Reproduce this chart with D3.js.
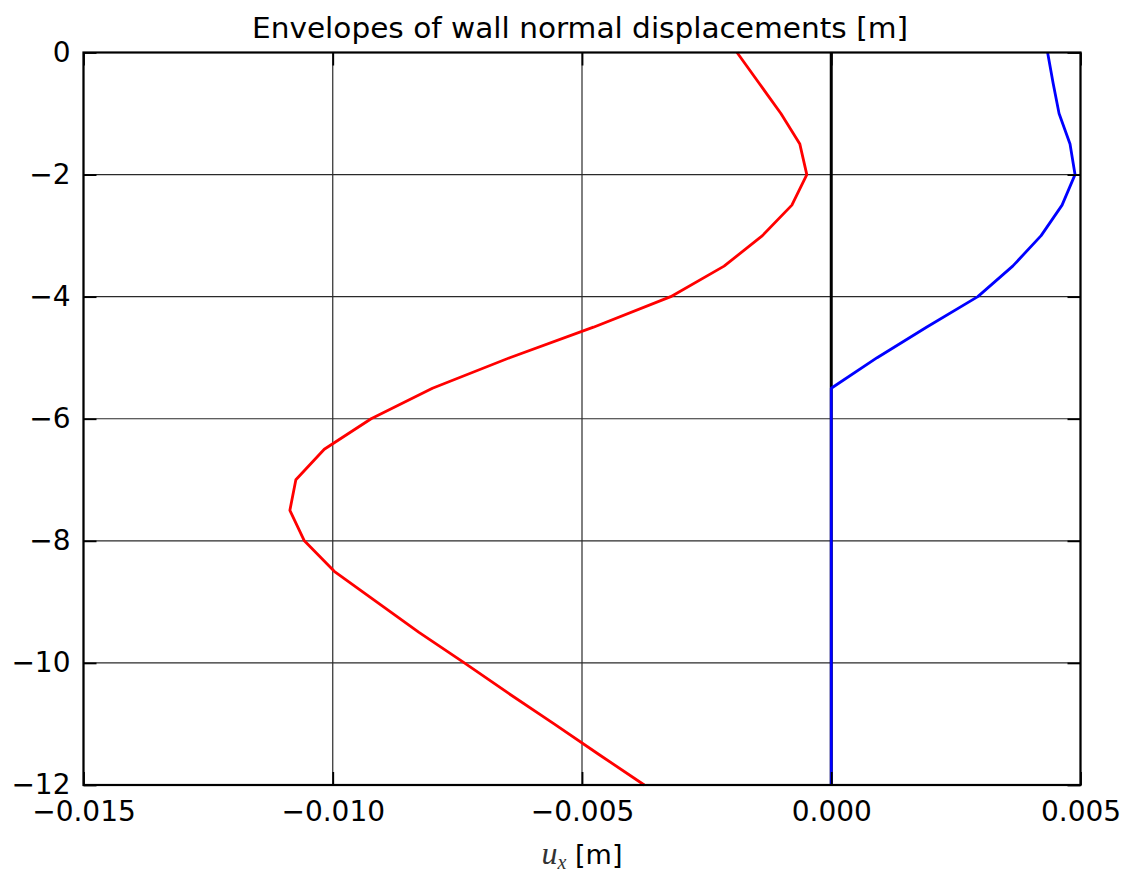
<!DOCTYPE html>
<html>
<head>
<meta charset="utf-8">
<script src="https://cdn.jsdelivr.net/npm/d3@7"></script>
<style>
  html, body { margin: 0; padding: 0; background: #fff; }
  svg { display: block; }
  text { font-family: "DejaVu Sans", sans-serif; fill: #000; }
</style>
</head>
<body>
<svg id="chart" width="1129" height="874"></svg>
<script>
// Depth below the wall top [m]
const depth = [0, -0.5, -1, -1.5, -2, -2.5, -3, -3.5, -4, -4.5, -5, -5.5, -6,
               -6.5, -7, -7.5, -8, -8.5, -9, -9.5, -10, -10.5, -11, -11.5, -12];

// Minimum envelope of normal displacement u_x [m]
const uxMin = [-0.00189, -0.00145, -0.00101, -0.00063, -0.00049, -0.00079, -0.00138,
               -0.00215, -0.00322, -0.00477, -0.00645, -0.00800, -0.00923, -0.01017,
               -0.01074, -0.01086, -0.01057, -0.00997, -0.00912, -0.00827, -0.00736,
               -0.00647, -0.00556, -0.00466, -0.00375];

// Maximum envelope of normal displacement u_x [m]
const uxMax = [0.00434, 0.00445, 0.00457, 0.00479, 0.00489, 0.00463, 0.00421,
               0.00364, 0.00294, 0.00191, 0.00092, 0.0, 0.0, 0.0, 0.0, 0.0, 0.0,
               0.0, 0.0, 0.0, 0.0, 0.0, 0.0, 0.0, 0.0];

// Wall axis (reference line)
const wallX = [0, 0];
const wallDepth = [0, -12];

const xTicks = [-0.015, -0.010, -0.005, 0.000, 0.005];
const yTicks = [0, -2, -4, -6, -8, -10, -12];

const titleText = "Envelopes of wall normal displacements [m]";

const svg = d3.select("#chart");
const plotLeft = 83.5, plotRight = 1080.5, plotTop = 52.5, plotBottom = 785;

const x = d3.scaleLinear().domain([-0.015, 0.005]).range([plotLeft, plotRight]);
const y = d3.scaleLinear().domain([0, -12]).range([plotTop, plotBottom]);

// grid
const grid = svg.append("g").attr("stroke", "#2a2a2a").attr("stroke-width", 1.2);
grid.selectAll("line.gx").data(xTicks).join("line").attr("class", "gx")
  .attr("x1", d => x(d)).attr("x2", d => x(d))
  .attr("y1", plotTop).attr("y2", plotBottom);
grid.selectAll("line.gy").data(yTicks).join("line").attr("class", "gy")
  .attr("x1", plotLeft).attr("x2", plotRight)
  .attr("y1", d => y(d)).attr("y2", d => y(d));

const line = d3.line().x(d => x(d[0])).y(d => y(d[1]));

// wall axis
svg.append("path")
  .attr("d", line(wallX.map((v, i) => [v, wallDepth[i]])))
  .attr("fill", "none").attr("stroke", "#000").attr("stroke-width", 3);

// envelopes
svg.append("path")
  .attr("d", line(uxMin.map((v, i) => [v, depth[i]])))
  .attr("fill", "none").attr("stroke", "#ff0000").attr("stroke-width", 2.8)
  .attr("stroke-linejoin", "round");
svg.append("path")
  .attr("d", line(uxMax.map((v, i) => [v, depth[i]])))
  .attr("fill", "none").attr("stroke", "#0000ff").attr("stroke-width", 2.8)
  .attr("stroke-linejoin", "round");

// axes with inward ticks
const tickLen = 13;
const fmtX = d3.format(".3f");
const fmtY = d3.format("d");

const axB = svg.append("g").attr("transform", `translate(0,${plotBottom})`)
  .call(d3.axisBottom(x).tickValues(xTicks).tickFormat(fmtX)
        .tickSize(-tickLen).tickPadding(16));
const axL = svg.append("g").attr("transform", `translate(${plotLeft},0)`)
  .call(d3.axisLeft(y).tickValues(yTicks).tickFormat(fmtY)
        .tickSize(-tickLen).tickPadding(13));
const axT = svg.append("g").attr("transform", `translate(0,${plotTop})`)
  .call(d3.axisTop(x).tickValues(xTicks).tickFormat("")
        .tickSize(-tickLen));
const axR = svg.append("g").attr("transform", `translate(${plotRight},0)`)
  .call(d3.axisRight(y).tickValues(yTicks).tickFormat("")
        .tickSize(-tickLen));

[axB, axL, axT, axR].forEach(g => {
  g.select(".domain").remove();
  g.selectAll(".tick line").attr("stroke", "#000").attr("stroke-width", 1.8);
  g.selectAll(".tick text")
    .attr("font-family", "DejaVu Sans, sans-serif")
    .attr("font-size", 28).attr("fill", "#000");
});

// frame
svg.append("rect")
  .attr("x", plotLeft).attr("y", plotTop)
  .attr("width", plotRight - plotLeft).attr("height", plotBottom - plotTop)
  .attr("fill", "none").attr("stroke", "#000").attr("stroke-width", 2.2);

// title
svg.append("text")
  .attr("x", (plotLeft + plotRight) / 2 - 2).attr("y", 37.5)
  .attr("text-anchor", "middle")
  .attr("font-size", 28)
  .attr("textLength", 656).attr("lengthAdjust", "spacingAndGlyphs")
  .text(titleText);

// x axis label: u_x [m]
const xl = svg.append("text")
  .attr("x", (plotLeft + plotRight) / 2).attr("y", 864)
  .attr("text-anchor", "middle")
  .attr("font-size", 27);
xl.append("tspan")
  .attr("font-family", "Liberation Serif, DejaVu Serif, serif")
  .attr("font-style", "italic").attr("font-size", 32).attr("fill", "#333")
  .text("u");
xl.append("tspan")
  .attr("font-family", "Liberation Serif, DejaVu Serif, serif")
  .attr("font-style", "italic").attr("font-size", 20).attr("fill", "#333")
  .attr("dy", 5)
  .text("x");
xl.append("tspan")
  .attr("dy", -5)
  .text(" [m]");
</script>
</body>
</html>
